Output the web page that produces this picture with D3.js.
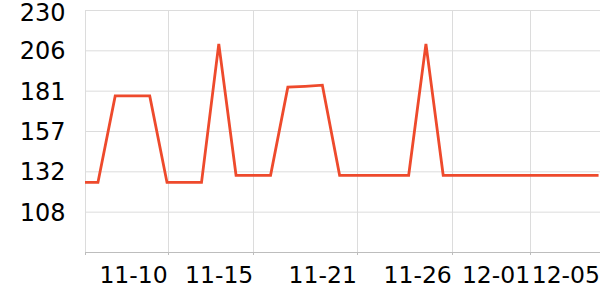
<!DOCTYPE html>
<html><head><meta charset="utf-8">
<script src="https://cdn.jsdelivr.net/npm/d3@7"></script>
<style>body{margin:0;background:#fff}svg{display:block;font-family:"DejaVu Sans",sans-serif}</style>
</head><body><svg id="c" width="600" height="300"></svg>
<script>
const dates = ["2023-11-05","2023-11-06","2023-11-07","2023-11-08","2023-11-09","2023-11-10","2023-11-11","2023-11-12","2023-11-13","2023-11-14","2023-11-15","2023-11-16","2023-11-17","2023-11-18","2023-11-19","2023-11-20","2023-11-21","2023-11-22","2023-11-23","2023-11-24","2023-11-25","2023-11-26","2023-11-27","2023-11-28","2023-11-29","2023-11-30","2023-12-01","2023-12-02","2023-12-03","2023-12-04","2023-12-05"];
const values = [125.7,125.7,178,178,178,125.7,125.7,125.7,209.5,130,130,130,183.3,183.8,184.5,130,130,130,130,130,209.5,130,130,130,130,130,130,130,130,130,130];
const xTickTimes = ["2023-11-10T01:00","2023-11-15T00:00","2023-11-21T00:00","2023-11-26T12:00","2023-12-01T01:00","2023-12-05T02:00"];
const xTickLabels = ["11-10","11-15","11-21","11-26","12-01","12-05"];
const yTicks = [83.6,108,132.4,156.8,181.2,205.6,230];
const xDomain = ["2023-11-05T06:00","2023-12-05T02:00"];

const parse = s => new Date(s.length === 10 ? s + "T00:00" : s);
const svg = d3.select("#c");
const L = 85, R = 600, T = 10, B = 252;
const x = d3.scaleTime().domain(xDomain.map(parse)).range([L, R]);
const y = d3.scaleLinear().domain([yTicks[0], yTicks[yTicks.length-1]]).range([B, T]);

// horizontal grid
svg.append("g").selectAll("line").data(yTicks.slice(1)).join("line")
  .attr("x1", L).attr("x2", R).attr("y1", d => y(d)+0.5).attr("y2", d => y(d)+0.5)
  .attr("stroke", "#dcdcdc").attr("stroke-width", 1);
// vertical grid
const xt = xTickTimes.map(parse);
svg.append("g").selectAll("line").data([x.domain()[0], ...xt]).join("line")
  .attr("x1", d => Math.round(x(d))+0.5).attr("x2", d => Math.round(x(d))+0.5)
  .attr("y1", T).attr("y2", B).attr("stroke", "#dcdcdc").attr("stroke-width", 1);
// x axis line
svg.append("line").attr("x1", L).attr("x2", R).attr("y1", B+0.5).attr("y2", B+0.5)
  .attr("stroke", "#bdbdbd").attr("stroke-width", 1);
svg.append("g").selectAll("line").data([x.domain()[0], ...xt]).join("line")
  .attr("x1", d => Math.round(x(d))+0.5).attr("x2", d => Math.round(x(d))+0.5)
  .attr("y1", B).attr("y2", B+3).attr("stroke", "#bdbdbd");
// y labels
svg.append("g").selectAll("text").data(yTicks.slice(1)).join("text")
  .attr("x", 65.5).attr("y", d => Math.max(y(d)+2, 14)).attr("text-anchor", "end")
  .attr("dominant-baseline", "middle").attr("font-size", 24).attr("fill", "#000")
  .text(d => Math.round(d));
// x labels
svg.append("g").selectAll("text").data(xt).join("text")
  .attr("x", d => x(d)).attr("y", 282.5).attr("text-anchor", "end")
  .attr("font-size", 23.5).attr("fill", "#000")
  .text((d, i) => xTickLabels[i]);
// clip + line
svg.append("clipPath").attr("id", "clip").append("rect")
  .attr("x", L).attr("y", 0).attr("width", R - L).attr("height", 300);
const line = d3.line().x((d, i) => x(parse(dates[i]))).y(d => y(d));
svg.append("path").datum(values).attr("d", line).attr("clip-path", "url(#clip)")
  .attr("fill", "none").attr("stroke", "#ee4a2c").attr("stroke-width", 2.8)
  .attr("stroke-linejoin", "miter");
</script></body></html>
